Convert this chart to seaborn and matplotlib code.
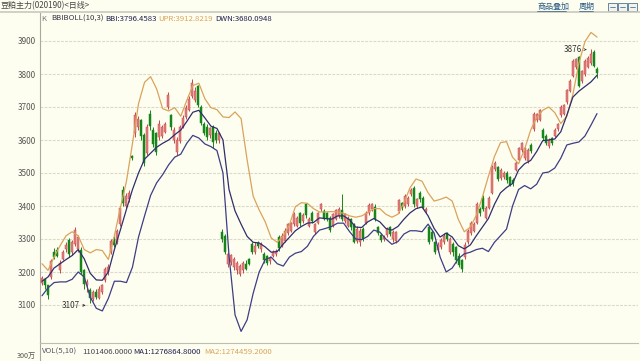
import numpy as np
import pandas as pd
import matplotlib
matplotlib.use("Agg")
import matplotlib.pyplot as plt
import seaborn as sns
from matplotlib.patches import Rectangle
from matplotlib.lines import Line2D

sns.set_theme(style="white")
plt.rcParams['font.family'] = ['Noto Sans CJK SC', 'DejaVu Sans']

# ---------------- data ----------------
opens = [3168,3178,3160,3185,3262,3268,3205,3240,3270,3298,
         3262,3285,3270,3268,3205,3160,3145,3118,3138,3122,
         3140,3175,3200,3262,3300,3290,3345,3450,3400,3420,
         3550,3620,3640,3660,3615,3560,3680,3630,3620,3610,
         3612,3625,3700,3675,3600,3565,3598,3640,3670,3692,
         3732,3722,3765,3700,3650,3640,3615,3640,3620,3600,
         3320,3310,3225,3230,3215,3205,3195,3205,3225,3240,
         3285,3262,3288,3270,3255,3248,3232,3250,3255,3305,
         3280,3295,3318,3325,3345,3340,3378,3355,3405,3340,
         3380,3322,3350,3390,3385,3378,3365,3340,3362,3370,
         3388,3355,3340,3360,3345,3295,3290,3330,3350,3378,
         3390,3398,3335,3312,3300,3312,3335,3300,3295,3385,
         3408,3400,3405,3435,3455,3400,3440,3425,3385,3335,
         3322,3290,3268,3275,3290,3318,3262,3285,3275,3250,
         3235,3245,3290,3318,3325,3350,3392,3425,3365,3395,
         3440,3512,3518,3485,3488,3500,3488,3480,3510,3540,
         3570,3545,3535,3585,3632,3660,3662,3630,3612,3582,
         3605,3612,3632,3675,3680,3715,3750,3795,3820,3850,
         3778,3800,3822,3832,3868,3815]
highs = [3188,3182,3162,3240,3272,3275,3235,3268,3290,3302,
         3296,3335,3312,3275,3210,3180,3152,3145,3150,3158,
         3165,3215,3225,3300,3310,3330,3400,3462,3440,3450,
         3555,3685,3672,3665,3620,3650,3690,3640,3625,3660,
         3645,3655,3745,3680,3638,3610,3645,3675,3705,3732,
         3785,3760,3768,3705,3655,3650,3640,3645,3630,3625,
         3330,3315,3260,3255,3245,3232,3225,3232,3235,3242,
         3290,3292,3295,3290,3260,3252,3248,3268,3270,3312,
         3318,3332,3350,3352,3382,3370,3382,3378,3410,3368,
         3385,3350,3382,3410,3390,3382,3370,3380,3392,3398,
         3435,3380,3370,3365,3350,3338,3332,3335,3385,3408,
         3410,3405,3340,3318,3312,3335,3340,3328,3325,3422,
         3412,3435,3430,3455,3460,3425,3445,3430,3398,3340,
         3328,3295,3290,3302,3318,3322,3305,3290,3280,3258,
         3240,3290,3330,3355,3352,3412,3398,3432,3400,3430,
         3525,3535,3522,3515,3505,3505,3492,3485,3535,3580,
         3595,3580,3575,3590,3685,3682,3695,3635,3618,3605,
         3610,3635,3652,3705,3710,3755,3785,3845,3850,3855,
         3812,3845,3855,3876,3872,3820]
lows = [3160,3150,3118,3180,3238,3244,3198,3235,3262,3245,
        3252,3278,3262,3195,3150,3140,3107,3112,3118,3118,
        3132,3170,3190,3255,3275,3285,3340,3400,3395,3412,
        3540,3610,3630,3600,3520,3555,3630,3580,3555,3600,
        3605,3620,3695,3630,3592,3555,3590,3635,3665,3688,
        3728,3715,3700,3645,3615,3600,3605,3575,3590,3592,
        3290,3255,3215,3222,3205,3195,3188,3198,3205,3220,
        3255,3255,3272,3262,3228,3222,3225,3245,3250,3265,
        3275,3290,3312,3320,3340,3335,3340,3350,3365,3335,
        3350,3315,3345,3385,3358,3355,3322,3335,3358,3365,
        3355,3350,3335,3328,3288,3288,3280,3295,3345,3372,
        3385,3355,3312,3292,3295,3305,3308,3290,3288,3380,
        3388,3395,3400,3430,3398,3395,3412,3390,3380,3285,
        3295,3255,3262,3270,3285,3295,3255,3250,3228,3215,
        3200,3240,3285,3312,3320,3345,3370,3385,3360,3390,
        3435,3505,3475,3480,3482,3470,3460,3462,3505,3535,
        3565,3540,3530,3562,3628,3655,3658,3600,3585,3576,
        3585,3608,3628,3670,3675,3710,3745,3790,3815,3760,
        3772,3795,3818,3828,3820,3788]
closes = [3182,3160,3130,3232,3245,3250,3228,3262,3282,3255,
          3290,3328,3305,3200,3165,3170,3120,3140,3125,3150,
          3160,3210,3215,3295,3282,3325,3395,3410,3430,3440,
          3546,3675,3665,3612,3530,3640,3642,3588,3565,3650,
          3640,3650,3735,3638,3630,3600,3638,3668,3698,3725,
          3772,3750,3705,3652,3622,3610,3635,3595,3600,3620,
          3300,3262,3255,3250,3238,3228,3218,3228,3210,3225,
          3262,3280,3278,3285,3235,3228,3242,3262,3265,3272,
          3310,3325,3345,3348,3375,3365,3348,3372,3372,3362,
          3355,3345,3378,3405,3362,3362,3328,3375,3388,3392,
          3360,3375,3365,3335,3292,3330,3325,3300,3378,3402,
          3405,3362,3318,3298,3305,3330,3315,3322,3320,3418,
          3395,3430,3425,3450,3405,3420,3420,3395,3392,3292,
          3300,3262,3282,3298,3310,3300,3300,3260,3235,3222,
          3208,3282,3325,3348,3345,3405,3378,3390,3395,3425,
          3518,3530,3482,3510,3500,3478,3465,3470,3530,3575,
          3590,3575,3570,3568,3680,3678,3690,3605,3592,3600,
          3590,3630,3648,3700,3705,3750,3780,3840,3845,3765,
          3808,3840,3850,3860,3825,3803]

upr = [3225,3205,3245,3280,3310,3322,3310,3268,3258,3268,3265,3238,3310,3395,3475,
       3590,3710,3775,3792,3755,3695,3688,3698,3672,3720,3765,3772,3725,3698,3692,
       3670,3668,3685,3665,3540,3430,3388,3352,3303,3290,3310,3342,3398,3410,3408,
       3392,3382,3382,3383,3382,3378,3370,3366,3370,3380,3392,3392,3375,3366,3375,
       3410,3455,3482,3475,3440,3415,3420,3427,3415,3360,3322,3336,3372,3427,3490,
       3550,3592,3595,3548,3528,3572,3630,3668,3690,3700,3683,3650,3672,3738,3833,
       3898,3926,3912]
bbi = [3172,3185,3212,3225,3238,3250,3268,3240,3196,3176,3175,3200,3268,3328,3390,
       3450,3500,3542,3560,3578,3590,3600,3616,3630,3656,3684,3690,3667,3642,3635,
       3600,3450,3385,3345,3308,3290,3288,3276,3260,3262,3285,3305,3325,3338,3348,
       3350,3364,3362,3360,3370,3370,3358,3336,3335,3352,3362,3352,3332,3327,3338,
       3360,3379,3392,3397,3370,3332,3306,3318,3306,3280,3270,3282,3310,3336,3362,
       3405,3440,3456,3468,3509,3528,3538,3565,3598,3600,3603,3625,3675,3730,3748,
       3762,3776,3796]
dwn = [3128,3152,3168,3170,3170,3178,3200,3185,3124,3090,3082,3120,3172,3172,3168,
       3215,3306,3370,3432,3470,3495,3525,3548,3557,3590,3614,3606,3588,3580,3568,
       3500,3250,3070,3020,3055,3135,3200,3238,3245,3225,3218,3245,3257,3262,3278,
       3308,3327,3332,3338,3348,3348,3322,3300,3298,3308,3327,3321,3300,3284,3292,
       3315,3325,3325,3322,3345,3318,3245,3200,3212,3240,3255,3260,3268,3272,3262,
       3290,3310,3330,3400,3450,3462,3452,3466,3500,3503,3515,3545,3585,3590,3594,
       3612,3645,3680]

yticks = [3100, 3200, 3300, 3400, 3500, 3600, 3700, 3800, 3900]
low_label, low_idx = "3107", 16
high_label, high_idx = "3876", 183

# ---------------- figure ----------------
W, H = 640, 361
BG = "#FEFEF0"
fig = plt.figure(figsize=(6.4, 3.61), dpi=100, facecolor=BG)

def fx(px):
    return px / W

def fy(py):
    return 1 - py / H

ax_l, ax_r, ax_t, ax_b = 40, 638, 13, 343
ax = fig.add_axes([fx(ax_l), fy(ax_b), fx(ax_r - ax_l), (ax_b - ax_t) / H])
ax.set_facecolor(BG)

n = len(closes)
idx = np.arange(n)
px_per = (597 - 42) / (n - 1)
ax.set_xlim(-(42 - ax_l) / px_per, (n - 1) + (ax_r - 597) / px_per)
y_per_px = 100 / 33.0
ax.set_ylim(3900 - (ax_b - 41) * y_per_px, 3900 + (41 - ax_t) * y_per_px)

# grid
for yv in yticks:
    ax.axhline(yv, color="#DADACB", lw=0.8, ls=(0, (2.5, 1.2)), zorder=0)

df = pd.DataFrame({"i": idx, "o": opens, "h": highs, "l": lows, "c": closes})
up = df[df.c >= df.o]
dn = df[df.c < df.o]
UPC, UPE, DNC = "#E38080", "#C54848", "#17861A"
ax.vlines(up.i, up.l, up.h, color=UPE, lw=0.7, zorder=2)
ax.vlines(dn.i, dn.l, dn.h, color=DNC, lw=0.7, zorder=2)
bw = 0.72
ax.bar(up.i, np.maximum(up.c - up.o, 3), bottom=up.o, width=bw, color=UPC,
       edgecolor=UPE, linewidth=0.35, zorder=3)
ax.bar(dn.i, np.maximum(dn.o - dn.c, 3), bottom=dn.c, width=bw, color=DNC,
       edgecolor=DNC, linewidth=0.35, zorder=3)

# bands
for arr, col in [(upr, "#D9A35C"), (bbi, "#2E2E6E"), (dwn, "#3D3D85")]:
    xs = np.linspace(0, n - 1, len(arr))
    sns.lineplot(x=xs, y=arr, color=col, lw=0.9, ax=ax, zorder=4)

# annotations
ax.annotate("", xy=(low_idx - 0.5, lows[low_idx] - 8), xytext=(low_idx - 3.3, lows[low_idx] - 8),
            arrowprops=dict(arrowstyle="->", color="#333333", lw=0.5, mutation_scale=4))
ax.text(low_idx - 3.5, lows[low_idx] - 8, low_label, ha="right", va="center",
        fontsize=5.8, color="#333333")
ax.annotate("", xy=(high_idx - 0.5, highs[high_idx] - 2), xytext=(high_idx - 2.8, highs[high_idx] - 2),
            arrowprops=dict(arrowstyle="->", color="#333333", lw=0.5, mutation_scale=4))
ax.text(high_idx - 3.0, highs[high_idx] - 2, high_label, ha="right", va="center",
        fontsize=5.8, color="#333333")

ax.set_yticks(yticks)
ax.set_yticklabels([str(v) for v in yticks], fontsize=5.8, color="#555555")
ax.tick_params(axis="y", length=0, pad=3)
ax.set_xticks([])
for s in ["top", "right", "bottom"]:
    ax.spines[s].set_visible(False)
ax.spines["left"].set_color("#A8A8A0")
ax.spines["left"].set_linewidth(0.8)
ax.set_xlabel("")
ax.set_ylabel("")
if ax.get_legend():
    ax.get_legend().remove()

# volume pane (header only visible)
axv = fig.add_axes([fx(ax_l), 0, fx(ax_r - ax_l), (H - ax_b) / H])
axv.set_facecolor(BG)
axv.set_xticks([])
axv.set_yticks([])
for s in ["right", "bottom"]:
    axv.spines[s].set_visible(False)
axv.spines["left"].set_color("#A8A8A0")
axv.spines["left"].set_linewidth(0.8)
axv.spines["top"].set_color("#BDBDB0")
axv.spines["top"].set_linewidth(0.8)

fs = 5.6
fig.text(fx(42), fy(352), "VOL(5,10)", fontsize=fs, color="#555566", va="center")
fig.text(fx(82), fy(352), "1101406.0000", fontsize=fs, color="#444455", va="center")
fig.text(fx(133), fy(352), "MA1:1276864.8000", fontsize=fs, color="#1E1E50", va="center")
fig.text(fx(204), fy(352), "MA2:1274459.2000", fontsize=fs, color="#D9A35C", va="center")
fig.text(fx(36), fy(356), "300万", fontsize=5.2, color="#555555", va="center", ha="right")

# legend line
fig.text(fx(41), fy(19), "K", fontsize=fs, color="#777777", va="center")
fig.text(fx(51), fy(19), "BBIBOLL(10,3)", fontsize=fs, color="#333344", va="center")
fig.text(fx(105), fy(19), "BBI:3796.4583", fontsize=fs, color="#1E1E50", va="center")
fig.text(fx(158), fy(19), "UPR:3912.8219", fontsize=fs, color="#D9A35C", va="center")
fig.text(fx(215), fy(19), "DWN:3680.0948", fontsize=fs, color="#1E1E50", va="center")

# header
fig.add_artist(Line2D([0, 1], [fy(12), fy(12)], color="#C8C8C0", lw=1.2))
fig.text(fx(1), fy(6), "豆粕主力(020190)<日线>", fontsize=5.8, color="#444444", va="center")
fig.text(fx(537), fy(6.5), "商品叠加", fontsize=5.8, color="#2A5C86", va="center")
fig.add_artist(Line2D([fx(537), fx(566)], [fy(10.5), fy(10.5)], color="#2A5C86", lw=0.5))
fig.text(fx(579), fy(6.5), "周期", fontsize=5.8, color="#2A5C86", va="center")
fig.add_artist(Line2D([fx(579), fx(593)], [fy(10.5), fy(10.5)], color="#2A5C86", lw=0.5))
for bx in [608, 618, 628]:
    fig.add_artist(Rectangle((fx(bx), fy(11)), fx(9), 8 / H, facecolor="#F4F4EC",
                             edgecolor="#2A5C86", lw=0.5))
    fig.add_artist(Line2D([fx(bx + 2), fx(bx + 7)], [fy(7), fy(7)], color="#2A5C86", lw=0.5))

fig.savefig("out.png", dpi=100, facecolor=BG)
